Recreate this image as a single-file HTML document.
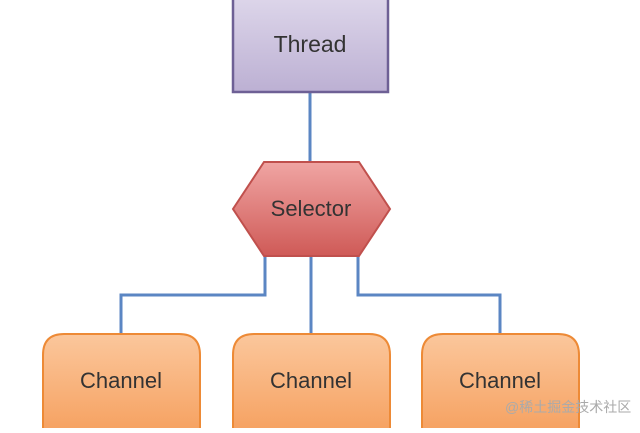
<!DOCTYPE html>
<html><head><style>body{margin:0;background:#fff;width:640px;height:428px;overflow:hidden}</style></head><body>
<svg width="640" height="428" xmlns="http://www.w3.org/2000/svg" font-family="Liberation Sans, sans-serif">
<defs>
<linearGradient id="p" x1="0" y1="0" x2="0" y2="1"><stop offset="0" stop-color="#ddd6ea"/><stop offset="1" stop-color="#bcb0d3"/></linearGradient>
<linearGradient id="r" x1="0" y1="0" x2="0" y2="1"><stop offset="0" stop-color="#f0a5a3"/><stop offset="1" stop-color="#cf5a57"/></linearGradient>
<linearGradient id="o" x1="0" y1="0" x2="0" y2="1"><stop offset="0" stop-color="#fbc79c"/><stop offset="1" stop-color="#f6a262"/></linearGradient>
</defs>
<g stroke="#5b86c3" stroke-width="3" fill="none">
<line x1="310" y1="92" x2="310" y2="163"/>
<polyline points="265,256 265,295 121,295 121,334"/>
<line x1="311" y1="256" x2="311" y2="334"/>
<polyline points="358,256 358,295 500,295 500,334"/>
</g>
<rect x="233" y="-3" width="155" height="95" fill="url(#p)" stroke="#6e6095" stroke-width="2.5"/>
<text x="310" y="52" font-size="23" text-anchor="middle" fill="#333">Thread</text>
<polygon points="264,162 359,162 390,209 359,256 264,256 233,209" fill="url(#r)" stroke="#c0504d" stroke-width="2"/>
<text x="311" y="216" font-size="22" text-anchor="middle" fill="#333">Selector</text>
<g fill="url(#o)" stroke="#ed8a36" stroke-width="2">
<path d="M43,430 V355 Q43,334 64,334 H179 Q200,334 200,355 V430 Z"/>
<path d="M233,430 V355 Q233,334 254,334 H369 Q390,334 390,355 V430 Z"/>
<path d="M422,430 V355 Q422,334 443,334 H558 Q579,334 579,355 V430 Z"/>
</g>
<g font-size="22" text-anchor="middle" fill="#333">
<text x="121" y="388">Channel</text>
<text x="311" y="388">Channel</text>
<text x="500" y="388">Channel</text>
</g>
<text x="505" y="412" font-size="14" fill="#aaa" font-family="Liberation Sans, Noto Sans CJK SC, sans-serif">@稀土掘金技术社区</text>
</svg>
</body></html>
